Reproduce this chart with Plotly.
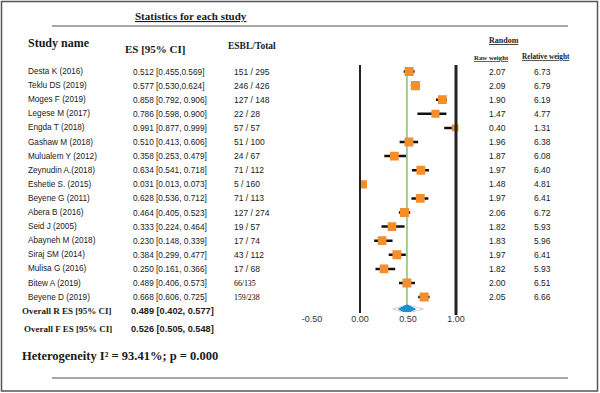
import plotly.graph_objects as go

studies = ["Desta K (2016)", "Teklu DS (2019)", "Moges F (2019)", "Legese M (2017)",
           "Engda T (2018)", "Gashaw M (2018)", "Mulualem Y (2012)", "Zeynudin A.(2018)",
           "Eshetie S. (2015)", "Beyene G (2011)", "Abera B (2016)", "Seid J (2005)",
           "Abayneh M (2018)", "Siraj SM (2014)", "Mulisa G (2016)", "Bitew A (2019)",
           "Beyene D (2019)"]
es = [0.512, 0.577, 0.858, 0.786, 0.991, 0.510, 0.358, 0.634, 0.031, 0.628, 0.464,
      0.333, 0.230, 0.384, 0.250, 0.489, 0.668]
ci_lo = [0.455, 0.530, 0.792, 0.598, 0.877, 0.413, 0.253, 0.541, 0.013, 0.536, 0.405,
         0.224, 0.148, 0.299, 0.161, 0.406, 0.606]
ci_hi = [0.569, 0.624, 0.906, 0.900, 0.999, 0.606, 0.479, 0.718, 0.073, 0.712, 0.523,
         0.464, 0.339, 0.477, 0.366, 0.573, 0.725]
esbl_total = ["151 / 295", "246 / 426", "127 / 148", "22 / 28", "57 / 57", "51 / 100",
              "24 / 67", "71 / 112", "5 / 160", "71 / 113", "127 / 274", "19 / 57",
              "17 / 74", "43 / 112", "17 / 68", "66/135", "159/238"]
raw_weight = [2.07, 2.09, 1.90, 1.47, 0.40, 1.96, 1.87, 1.97, 1.48, 1.97, 2.06, 1.82,
              1.83, 1.97, 1.82, 2.00, 2.05]
rel_weight = [6.73, 6.79, 6.19, 4.77, 1.31, 6.38, 6.08, 6.40, 4.81, 6.41, 6.72, 5.93,
              5.96, 6.41, 5.93, 6.51, 6.66]

overall_r = [0.489, 0.402, 0.577]
overall_f = [0.526, 0.505, 0.548]
pred_interval = [0.34, 0.66]
i2 = 93.41
p_value = 0.000
x_ticks = [-0.5, 0.0, 0.5, 1.0]

W, H = 600, 393
def px(p): return p / W
def py(p): return 1 - p / H

ROW0, STEP = 71.5, 14.1
def row_of(p): return (p - ROW0) / STEP

rows = list(range(len(studies)))
SERIF = "Liberation Serif, Times New Roman, serif"
SANS = "Liberation Sans, Arial, sans-serif"
TXT = "#1a1a1a"

fig = go.Figure()

# diamonds
r_row = row_of(309)
h = 0.3
fig.add_trace(go.Scatter(
    x=[pred_interval[0], overall_r[0], pred_interval[1], overall_r[0], pred_interval[0]],
    y=[r_row, r_row - h, r_row, r_row + h, r_row],
    mode="lines", line=dict(color="#cfcfcf", width=1), fill="toself",
    fillcolor="rgba(0,0,0,0)", hoverinfo="skip", showlegend=False))
fig.add_trace(go.Scatter(
    x=[overall_r[1], overall_r[0], overall_r[2], overall_r[0], overall_r[1]],
    y=[r_row, r_row - h, r_row, r_row + h, r_row],
    mode="lines", line=dict(color="#1b8fd2", width=1), fill="toself",
    fillcolor="#1b8fd2", hoverinfo="skip", showlegend=False))

# confidence intervals (drawn first, under the squares)
fig.add_trace(go.Scatter(
    x=es, y=rows, mode="markers", marker=dict(size=1, opacity=0),
    error_x=dict(type="data", symmetric=False,
                 array=[h_ - e for h_, e in zip(ci_hi, es)],
                 arrayminus=[e - l for e, l in zip(es, ci_lo)],
                 color="#111111", thickness=2.5, width=0),
    hoverinfo="skip", showlegend=False))
# study estimates
fig.add_trace(go.Scatter(
    x=es, y=rows, mode="markers",
    marker=dict(symbol="square", color="#f28e2b", opacity=1,
                size=[6 + 0.45 * w for w in rel_weight], line=dict(width=0)),
    hoverinfo="skip", showlegend=False))

shapes = []
# vertical reference lines
shapes.append(dict(type="line", xref="x", yref="paper", x0=0, x1=0,
                   y0=py(65), y1=py(313), line=dict(color="#222", width=2)))
shapes.append(dict(type="line", xref="x", yref="paper", x0=1, x1=1,
                   y0=py(65), y1=py(315), line=dict(color="#222", width=3)))
# green summary line
shapes.append(dict(type="line", xref="x", yref="y", x0=overall_r[0], x1=overall_r[0],
                   y0=0, y1=r_row, line=dict(color="#7dc36b", width=1.5), layer="below"))
# horizontal rules
shapes.append(dict(type="line", xref="paper", yref="paper", x0=px(52), x1=px(568),
                   y0=py(26), y1=py(26), line=dict(color="#888", width=1.5)))
shapes.append(dict(type="line", xref="paper", yref="paper", x0=px(52), x1=px(568),
                   y0=py(378), y1=py(378), line=dict(color="#888", width=1.5)))
# frame
shapes.append(dict(type="rect", xref="paper", yref="paper", x0=px(1.5), x1=px(597.5),
                   y0=py(391), y1=py(1.5), line=dict(color="#555", width=1.5)))

ann = []
def add(text, x, y, size, font=SANS, anchor="left", yref="paper", color=TXT):
    ann.append(dict(text=text, x=px(x), y=y, xref="paper", yref=yref, showarrow=False,
                    xanchor=anchor, yanchor="middle",
                    font=dict(family=font, size=size, color=color)))

add("<u><b>Statistics for each study</b></u>", 191, py(16), 11, SERIF, "center")
add("<b>Study name</b>", 26, py(43), 12, SERIF)
add("<b>ES [95% CI]</b>", 123, py(49), 11, SERIF)
add("<b>ESBL/Total</b>", 226, py(46), 9.5, SERIF)
add("<u><b>Random</b></u>", 504, py(41), 8, SERIF, "center")
add("<u><b>Raw weight</b></u>", 491, py(57), 6.8, SERIF, "center")
add("<u><b>Relative weight</b></u>", 546, py(57), 7.2, SERIF, "center")

for i, name in enumerate(studies):
    sep = "" if i < 2 else " "
    add(name, 26, i, 8.2, yref="y")
    add(f"{es[i]:.3f} [{ci_lo[i]:.3f},{sep}{ci_hi[i]:.3f}]", 131, i, 8.3, yref="y")
    serif_row = "/" in esbl_total[i] and " " not in esbl_total[i]
    add(esbl_total[i], 232, i, 7.8 if serif_row else 8.5,
        SERIF if serif_row else SANS, yref="y", color="#000" if serif_row else TXT)
    add(f"{raw_weight[i]:.2f}", 497, i, 8.5, anchor="center", yref="y")
    add(f"{rel_weight[i]:.2f}", 542, i, 8.5, anchor="center", yref="y")

add("<b>Overall R ES [95% CI]</b>", 20, py(310.5), 9, SERIF)
add(f"<b>{overall_r[0]:.3f} [{overall_r[1]:.3f}, {overall_r[2]:.3f}]</b>", 129, py(310.5), 9.2)
add("<b>Overall F ES [95% CI]</b>", 22, py(329), 9, SERIF)
add(f"<b>{overall_f[0]:.3f} [{overall_f[1]:.3f}, {overall_f[2]:.3f}]</b>", 129, py(329), 9.2)
add(f"<b>Heterogeneity I² = {i2:.2f}%; p = {p_value:.3f}</b>", 20, py(356), 12.5, SERIF)

fig.update_layout(
    width=W, height=H, margin=dict(l=0, r=0, t=0, b=0),
    paper_bgcolor="white", plot_bgcolor="white",
    xaxis=dict(domain=[px(302.4), px(475.2)], range=[-0.6, 1.2],
               tickvals=x_ticks, ticktext=[f"{v:.2f}" for v in x_ticks],
               showgrid=False, zeroline=False, showline=False, ticks="",
               tickfont=dict(family=SANS, size=9, color="#333")),
    yaxis=dict(domain=[py(312), py(60)], range=[row_of(312), row_of(60)],
               visible=False, showgrid=False, zeroline=False),
    shapes=shapes, annotations=ann, showlegend=False)

fig.write_html("out.html", config={"displayModeBar": False},
               post_script="document.body.style.margin='0';document.body.style.overflow='hidden';")
